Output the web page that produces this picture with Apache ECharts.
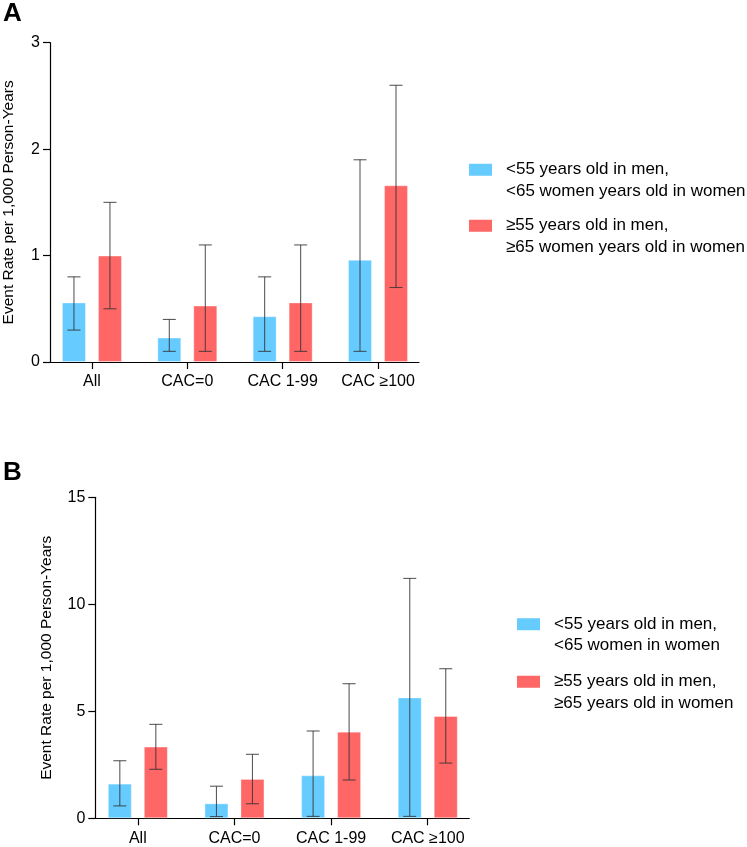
<!DOCTYPE html>
<html>
<head>
<meta charset="utf-8">
<script src="https://cdn.jsdelivr.net/npm/echarts@6/dist/echarts.min.js"></script>
<style>
html,body{margin:0;padding:0;background:#fff;}
#c{width:747px;height:847px;}
</style>
</head>
<body>
<div id="c"></div>
<script>
// ---- data ----
const categories = ['All', 'CAC=0', 'CAC 1-99', 'CAC \u2265100'];
const catIndex = [0, 1, 2, 3];

// Panel A
const nameYoungA = '<55 years old in men,\n<65 women years old in women';
const nameOldA = '\u226555 years old in men,\n\u226565 women years old in women';
const youngA = [0.56, 0.23, 0.43, 0.96];
const youngALo = [0.30, 0.10, 0.10, 0.10];
const youngAHi = [0.80, 0.40, 0.80, 1.90];
const oldA = [1.00, 0.53, 0.56, 1.66];
const oldALo = [0.50, 0.10, 0.10, 0.70];
const oldAHi = [1.50, 1.10, 1.10, 2.60];
const yTicksA = { min: 0, max: 3, interval: 1 };

// Panel B
const nameYoungB = '<55 years old in men,\n<65 women in women';
const nameOldB = '\u226555 years old in men,\n\u226565 years old in women';
const youngB = [1.62, 0.70, 2.01, 5.65];
const youngBLo = [0.58, 0.08, 0.09, 0.09];
const youngBHi = [2.69, 1.50, 4.08, 11.21];
const oldB = [3.35, 1.84, 4.05, 4.78];
const oldBLo = [2.29, 0.68, 1.79, 2.58];
const oldBHi = [4.39, 2.99, 6.29, 6.99];
const yTicksB = { min: 0, max: 15, interval: 5 };

const yTitle = 'Event Rate per 1,000 Person-Years';

// ---- style ----
const BLUE = '#66CCFF';
const RED = '#FF6666';
const ERR = 'rgba(50,50,50,0.8)';
const FONT = '"Liberation Sans", Arial, Helvetica, sans-serif';
const BAR_W = 24;
const OFFSET = 18;
const CAP = 6.5;

const chart = echarts.init(document.getElementById('c'), null, { renderer: 'canvas' });

function xAxisCfg(gridIndex) {
  return {
    type: 'value', gridIndex, min: -0.44, max: 3.43,
    splitLine: { show: false },
    axisLine: { show: true, onZero: false, lineStyle: { color: '#000', width: 1.2 } },
    axisTick: { show: true, customValues: catIndex, length: 7, lineStyle: { color: '#000', width: 1.2 } },
    axisLabel: {
      show: true, customValues: catIndex, margin: 12,
      formatter: v => categories[Math.round(v)],
      fontFamily: FONT, fontSize: 16, color: '#000'
    }
  };
}
function yAxisCfg(gridIndex, t, gap) {
  return {
    type: 'value', gridIndex, min: t.min, max: t.max, interval: t.interval,
    name: yTitle, nameLocation: 'middle', nameGap: gap,
    nameTextStyle: { fontFamily: FONT, fontSize: 15.5, color: '#000' },
    splitLine: { show: false },
    axisLine: { show: true, onZero: false, lineStyle: { color: '#000', width: 1.2 } },
    axisTick: { show: true, length: 7, lineStyle: { color: '#000', width: 1.2 } },
    axisLabel: { margin: 10, fontFamily: FONT, fontSize: 16, color: '#000' }
  };
}
function barSeries(name, vals, color, idx) {
  return {
    type: 'bar', name, xAxisIndex: idx, yAxisIndex: idx,
    barWidth: BAR_W, barGap: '50%',
    itemStyle: { color, borderColor: 'rgba(255,255,255,0.35)', borderWidth: 1 },
    data: vals.map((v, i) => [catIndex[i], v]),
    z: 2
  };
}
function errSeries(lo, hi, dx, idx) {
  return {
    type: 'custom', xAxisIndex: idx, yAxisIndex: idx, z: 5,
    data: lo.map((l, i) => [catIndex[i], l, hi[i]]),
    renderItem: (params, api) => {
      const p1 = api.coord([api.value(0), api.value(1)]);
      const p2 = api.coord([api.value(0), api.value(2)]);
      const x = p1[0] + dx;
      const style = { stroke: ERR, lineWidth: 1.1 };
      return {
        type: 'group',
        children: [
          { type: 'line', shape: { x1: x, y1: p1[1], x2: x, y2: p2[1] }, style },
          { type: 'line', shape: { x1: x - CAP, y1: p1[1], x2: x + CAP, y2: p1[1] }, style },
          { type: 'line', shape: { x1: x - CAP, y1: p2[1], x2: x + CAP, y2: p2[1] }, style }
        ]
      };
    }
  };
}
function legendItem(x, y, color, text) {
  return {
    type: 'group', left: x, top: y,
    children: [
      { type: 'rect', shape: { x: 0, y: 0, width: 23, height: 12 }, style: { fill: color } },
      { type: 'text', x: 37, y: -4.75, style: { text, fill: '#000', font: '17px ' + FONT, lineHeight: 21.5, verticalAlign: 'top' } }
    ]
  };
}

const option = {
  animation: false,
  backgroundColor: '#fff',
  grid: [
    { left: 46, right: 328, top: 42.7, bottom: 485 },
    { left: 95.3, right: 277.7, top: 497.3, bottom: 28.7 }
  ],
  xAxis: [xAxisCfg(0), xAxisCfg(1)],
  yAxis: [yAxisCfg(0, yTicksA, 33), yAxisCfg(1, yTicksB, 41)],
  series: [
    barSeries(nameYoungA, youngA, BLUE, 0),
    barSeries(nameOldA, oldA, RED, 0),
    errSeries(youngALo, youngAHi, -OFFSET, 0),
    errSeries(oldALo, oldAHi, OFFSET, 0),
    barSeries(nameYoungB, youngB, BLUE, 1),
    barSeries(nameOldB, oldB, RED, 1),
    errSeries(youngBLo, youngBHi, -OFFSET, 1),
    errSeries(oldBLo, oldBHi, OFFSET, 1)
  ],
  graphic: [
    { type: 'text', left: 3, top: 1, style: { text: 'A', font: 'bold 26px ' + FONT, fill: '#000' } },
    { type: 'text', left: 3, top: 460, style: { text: 'B', font: 'bold 26px ' + FONT, fill: '#000' } },
    legendItem(469, 159, BLUE, nameYoungA),
    legendItem(469, 215, RED, nameOldA),
    legendItem(517, 613.5, BLUE, nameYoungB),
    legendItem(517, 671, RED, nameOldB)
  ]
};
chart.setOption(option);
</script>
</body>
</html>
